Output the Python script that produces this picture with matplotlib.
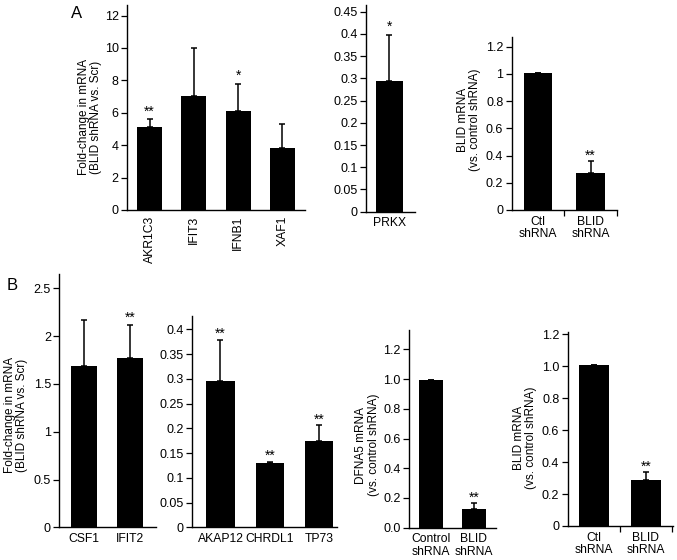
import numpy as np
import matplotlib
matplotlib.use('Agg')
import matplotlib.pyplot as plt

plt.rcParams['font.family'] = ['Liberation Sans', 'DejaVu Sans']
plt.rcParams['font.size'] = 8.5

W, H = 677, 560

# panel A
a1_genes = ['AKR1C3', 'IFIT3', 'IFNB1', 'XAF1']
a1_vals = [5.1, 7.05, 6.1, 3.8]
a1_err = [0.5, 2.95, 1.7, 1.5]
a1_stars = ['**', '', '*', '']

a2_genes = ['PRKX']
a2_vals = [0.295]
a2_err = [0.103]
a2_stars = ['*']

a3_groups = ['Ctl\nshRNA', 'BLID\nshRNA']
a3_vals = [1.005, 0.27]
a3_err = [0.0, 0.09]
a3_stars = ['', '**']

# panel B
b1_genes = ['CSF1', 'IFIT2']
b1_vals = [1.69, 1.77]
b1_err = [0.48, 0.35]
b1_stars = ['', '**']

b2_genes = ['AKAP12', 'CHRDL1', 'TP73']
b2_vals = [0.295, 0.129, 0.175]
b2_err = [0.083, 0.003, 0.031]
b2_stars = ['**', '**', '**']

b3_groups = ['Control\nshRNA', 'BLID\nshRNA']
b3_vals = [0.995, 0.125]
b3_err = [0.0, 0.04]
b3_stars = ['', '**']

b4_groups = ['Ctl\nshRNA', 'BLID\nshRNA']
b4_vals = [1.005, 0.285]
b4_err = [0.0, 0.05]
b4_stars = ['', '**']

fig = plt.figure(figsize=(W / 100, H / 100), dpi=100)


def make_ax(x0, x1, y0, y1):
    # pixel box -> figure fraction (y0 = bottom pixel row, y1 = top pixel row)
    return fig.add_axes([x0 / W, 1 - y0 / H, (x1 - x0) / W, (y0 - y1) / H])


def draw(ax, labels, vals, err, stars, ymax, xlim, width, yticks, yfmt,
         rot=0, edge_ticks=False, star_pad=0.0):
    x = np.arange(len(vals))
    ax.bar(x, vals, width=width, color='black', zorder=2)
    ax.errorbar(x, vals, yerr=[np.zeros(len(vals)), err], fmt='none',
                ecolor='black', elinewidth=1.1, capsize=2.3, capthick=1.1,
                zorder=3)
    for xi, v, e, s in zip(x, vals, err, stars):
        if s:
            ax.text(xi, v + e + star_pad, s, ha='center', va='bottom',
                    fontsize=10)
    ax.set_xlim(*xlim)
    ax.set_ylim(0, ymax)
    ax.set_yticks(yticks)
    ax.set_yticklabels([yfmt(t) for t in yticks], fontsize=9)
    ax.set_xticks(x)
    ax.set_xticklabels(labels, rotation=rot, fontsize=8.7)
    for lbl in ax.get_xticklabels():
        lbl.set_linespacing(1.05)
    ax.tick_params(axis='x', length=0, pad=4)
    ax.tick_params(axis='y', length=4, width=0.9, pad=2)
    if edge_ticks:
        ax.set_xticks(x + 0.5, minor=True)
        ax.tick_params(axis='x', which='minor', length=4, width=0.9)
    for sp in ['top', 'right']:
        ax.spines[sp].set_visible(False)
    for sp in ['left', 'bottom']:
        ax.spines[sp].set_linewidth(1.0)
    ax.patch.set_alpha(0)


def g(t):
    return '%g' % t


def f1(t):
    return '%.1f' % t


ax = make_ax(127, 305, 210, 5)
draw(ax, a1_genes, a1_vals, a1_err, a1_stars, 12.65, (-0.51, 3.51), 0.565,
     np.arange(0, 13, 2), g, rot=90, star_pad=0.05)

ax = make_ax(366, 415, 211.7, 5)
draw(ax, a2_genes, a2_vals, a2_err, a2_stars, 0.465, (-0.51, 0.56), 0.6,
     np.arange(0, 0.451, 0.05), g, star_pad=0.002)

ax = make_ax(511.7, 617, 210, 36.7)
draw(ax, a3_groups, a3_vals, a3_err, a3_stars, 1.273, (-0.5, 1.485), 0.54,
     np.arange(0, 1.21, 0.2), g, edge_ticks=True, star_pad=-0.01)

ax = make_ax(59.3, 156, 527.3, 274)
draw(ax, b1_genes, b1_vals, b1_err, b1_stars, 2.65, (-0.53, 1.57), 0.566,
     np.arange(0, 2.51, 0.5), g, star_pad=0.0)

ax = make_ax(192.3, 336.7, 527.3, 316)
draw(ax, b2_genes, b2_vals, b2_err, b2_stars, 0.427, (-0.57, 2.35), 0.567,
     np.arange(0, 0.401, 0.05), g, star_pad=-0.002)

ax = make_ax(409, 496, 527.7, 330)
draw(ax, b3_groups, b3_vals, b3_err, b3_stars, 1.33, (-0.52, 1.515), 0.56,
     np.arange(0, 1.21, 0.2), f1, star_pad=-0.01)

ax = make_ax(567.7, 672.7, 526, 331.7)
draw(ax, b4_groups, b4_vals, b4_err, b4_stars, 1.216, (-0.51, 1.52), 0.58,
     np.arange(0, 1.21, 0.2), lambda t: '0' if t == 0 else '%.1f' % t,
     edge_ticks=True, star_pad=-0.01)

# y labels and panel letters
ylab = dict(rotation=90, ha='center', va='center', fontsize=8.5,
            multialignment='center', linespacing=1.1)
fig.text(90 / W, 1 - 117 / H, 'Fold-change in mRNA\n(BLID shRNA vs. Scr)', **ylab)
fig.text(469 / W, 1 - 120 / H, 'BLID mRNA\n(vs. control shRNA)', **ylab)
fig.text(16 / W, 1 - 415 / H, 'Fold-change in mRNA\n(BLID shRNA vs. Scr)', **ylab)
fig.text(367.5 / W, 1 - 445 / H, 'DFNA5 mRNA\n(vs. control shRNA)', **ylab)
fig.text(525 / W, 1 - 438 / H, 'BLID mRNA\n(vs. control shRNA)', **ylab)

fig.text(77 / W, 1 - 13 / H, 'A', fontsize=12, ha='center', va='center')
fig.text(12 / W, 1 - 285 / H, 'B', fontsize=12, ha='center', va='center')

fig.savefig('out.png', dpi=100)
